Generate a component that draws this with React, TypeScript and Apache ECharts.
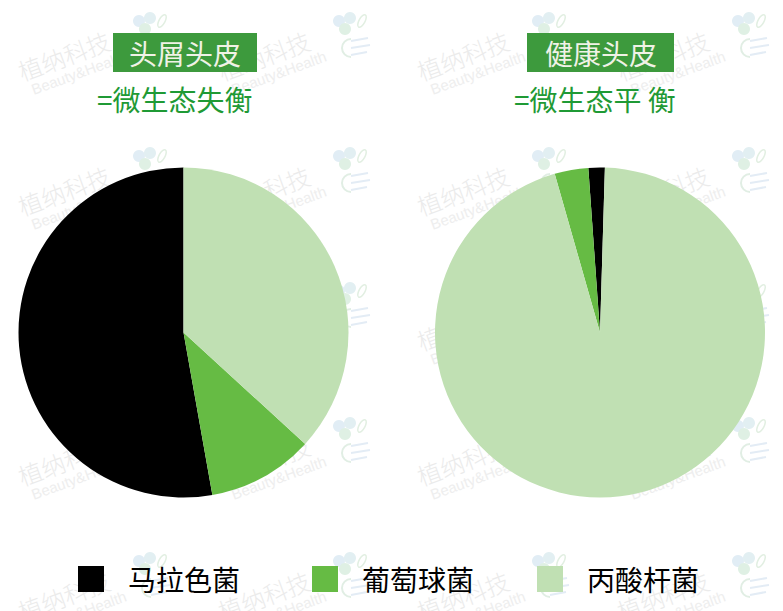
import React, { useEffect, useRef } from "react";
import * as echarts from "echarts";

const categories = ["马拉色菌", "葡萄球菌", "丙酸杆菌"];
const dandruffValues = [52.8, 10.4, 36.8];
const healthyValues = [1.6, 3.3, 95.1];
const sliceColors = ["#000000", "#66bb44", "#c0e0b3"];
const boxTitles = ["头屑头皮", "健康头皮"];
const subTitles = ["=微生态失衡", "=微生态平 衡"];
const watermarkMain = "植纳科技";
const watermarkSub = "Beauty&Health";

const FONT = "'Noto Sans CJK SC', 'Noto Sans', sans-serif";

function watermarkUnit(x0: number, y0: number) {
  return {
    type: "group",
    x: x0,
    y: y0,
    z: 0,
    silent: true,
    children: [
      {
        type: "group",
        rotation: 0.35,
        children: [
          {
            type: "text",
            x: 0,
            y: 0,
            style: {
              text: watermarkMain,
              fontSize: 24,
              fontWeight: 300,
              fontFamily: FONT,
              fill: "#ebebeb",
              textVerticalAlign: "bottom",
            },
          },
          {
            type: "text",
            x: 6,
            y: 2,
            style: {
              text: watermarkSub,
              fontSize: 15,
              fontFamily: "Liberation Sans, sans-serif",
              fill: "#eeeeee",
              textVerticalAlign: "top",
            },
          },
        ],
      },
      { type: "circle", shape: { cx: 116, cy: -62, r: 6 }, style: { fill: "#e1edf5" } },
      { type: "circle", shape: { cx: 127, cy: -65, r: 6 }, style: { fill: "#e2eff2" } },
      { type: "circle", shape: { cx: 122, cy: -54, r: 6 }, style: { fill: "#dff0e4" } },
      {
        type: "ellipse",
        x: 139,
        y: -62,
        rotation: -0.5,
        shape: { cx: 0, cy: 0, rx: 3, ry: 7 },
        style: { fill: "none", stroke: "#e2efe2", lineWidth: 1.5 },
      },
      { type: "line", shape: { x1: 128, y1: -42, x2: 145, y2: -45 }, style: { stroke: "#e3ecf5", lineWidth: 2 } },
      { type: "line", shape: { x1: 128, y1: -35, x2: 147, y2: -38 }, style: { stroke: "#e3ecf5", lineWidth: 2 } },
      { type: "line", shape: { x1: 128, y1: -28, x2: 144, y2: -31 }, style: { stroke: "#e3ecf5", lineWidth: 2 } },
      {
        type: "arc",
        shape: { cx: 128, cy: -35, r: 9, startAngle: Math.PI * 0.5, endAngle: Math.PI * 1.5 },
        style: { stroke: "#e1eee4", lineWidth: 2, fill: "none" },
      },
    ],
  };
}

export default function App() {
  const ref = useRef<HTMLDivElement>(null);

  useEffect(() => {
    if (!ref.current) return;
    const chart = echarts.init(ref.current, undefined, { renderer: "svg" });

    const cols = [23, 223, 422, 622];
    const rows = [83, 218, 353, 488, 623];
    const marks: any[] = [];
    rows.forEach((y) => cols.forEach((x) => marks.push(watermarkUnit(x, y))));

    const makeData = (vals: number[]) =>
      categories.map((name, i) => ({ name, value: vals[i], itemStyle: { color: sliceColors[i] } }));

    const legendLefts = [78, 312, 537];

    chart.setOption({
      animation: false,
      backgroundColor: "#ffffff",
      textStyle: { fontFamily: FONT },
      title: [
        {
          text: boxTitles[0],
          left: 113,
          top: 33,
          padding: [5, 16, 4, 16],
          backgroundColor: "#3d9a3d",
          textStyle: { fontSize: 28, lineHeight: 30, color: "#f0f2e6", fontWeight: "normal", fontFamily: FONT },
        },
        {
          text: boxTitles[1],
          left: 527,
          top: 33,
          padding: [5, 17, 4, 18],
          backgroundColor: "#3d9a3d",
          textStyle: { fontSize: 28, lineHeight: 30, color: "#f0f2e6", fontWeight: "normal", fontFamily: FONT },
        },
        {
          text: subTitles[0],
          left: 97,
          top: 84,
          padding: 0,
          textStyle: { fontSize: 28, lineHeight: 30, color: "#1f9a35", fontWeight: "normal", fontFamily: FONT },
        },
        {
          text: subTitles[1],
          left: 514,
          top: 84,
          padding: 0,
          textStyle: { fontSize: 28, lineHeight: 30, color: "#1f9a35", fontWeight: "normal", fontFamily: FONT },
        },
      ],
      legend: categories.map((name, i) => ({
        data: [name],
        left: legendLefts[i],
        top: 565,
        padding: 0,
        icon: "rect",
        itemWidth: 26,
        itemHeight: 26,
        selectedMode: false,
        textStyle: { fontSize: 28, color: "#000000", fontFamily: FONT, padding: [0, 0, 0, 19] },
      })),
      graphic: marks,
      series: [
        {
          type: "pie",
          center: [183.5, 332.5],
          radius: 165,
          startAngle: 90,
          clockwise: false,
          label: { show: false },
          labelLine: { show: false },
          emphasis: { disabled: true },
          silent: true,
          data: makeData(dandruffValues),
        },
        {
          type: "pie",
          center: [600, 332.5],
          radius: 165,
          startAngle: 88.3,
          clockwise: false,
          label: { show: false },
          labelLine: { show: false },
          emphasis: { disabled: true },
          silent: true,
          data: makeData(healthyValues),
        },
      ],
    });

    return () => chart.dispose();
  }, []);

  return <div ref={ref} style={{ width: 783, height: 611, position: "absolute", left: 0, top: 0 }} />;
}
